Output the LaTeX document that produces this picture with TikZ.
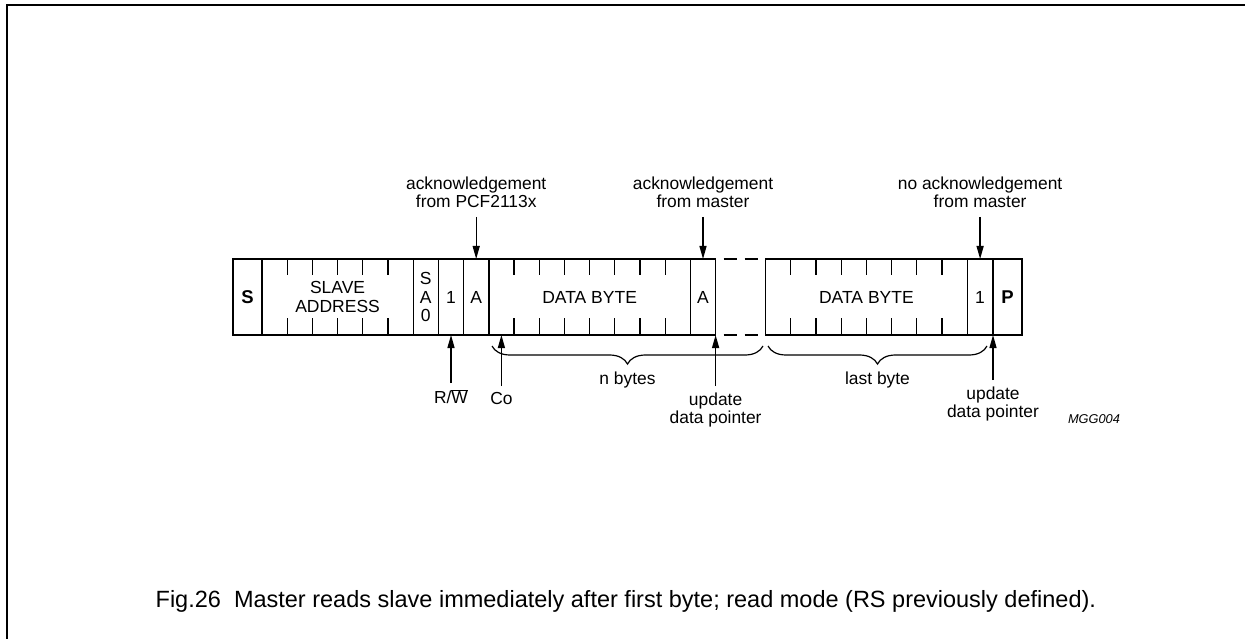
\documentclass[tikz,border=0pt]{standalone}
\usepackage{fontspec}
\setmainfont{Liberation Sans}
\usetikzlibrary{positioning,arrows.meta,decorations.pathreplacing}

\tikzset{
  cell/.style={draw, line width=1.4pt, minimum height=76pt, inner sep=0pt, outer sep=0pt,
    align=center, font=\fontsize{17.5}{18.5}\selectfont},
  toplbl/.style={align=center, inner xsep=0pt, inner ysep=9pt, anchor=south,
    font=\fontsize{17.4}{17.5}\selectfont},
  botlbl/.style={align=center, inner xsep=0pt, inner ysep=6pt, anchor=north,
    font=\fontsize{17.4}{18}\selectfont},
  bitmark/.style={line width=1.3pt},
  bytebrace/.style={decorate, decoration={brace, mirror, amplitude=18pt}, line width=1.2pt},
}

\begin{document}
\begin{tikzpicture}[x=1pt, y=-1pt, >={Triangle[length=13pt,width=7pt]}, line width=1.3pt]
    \useasboundingbox (0,0) rectangle (1245,639);
    % frame
    \draw[line width=1.6pt] (1245,5) -- (7,5) -- (7,639);

    % the frame of the transfer
    \node[cell, minimum width=29pt, anchor=west, font=\fontsize{18.5}{20}\selectfont\bfseries] (start) at (233,297) {S};
    \node[cell, minimum width=151.2pt, right=0pt of start] (addr) {SLAVE\\ADDRESS};
    \node[cell, minimum width=25.2pt, right=0pt of addr] (sa0) {S\\A\\0};
    \node[cell, minimum width=25.2pt, right=0pt of sa0] (rw) {1};
    \node[cell, minimum width=25.2pt, right=0pt of rw] (ackslave) {A};
    \node[cell, minimum width=201.6pt, right=0pt of ackslave] (data) {DATA BYTE};
    \node[cell, minimum width=25.2pt, right=0pt of data] (ackmaster) {A};
    \node[cell, minimum width=201.6pt, right=50pt of ackmaster] (lastdata) {DATA BYTE};
    \node[cell, minimum width=25.8pt, right=0pt of lastdata] (noack) {1};
    \node[cell, minimum width=29pt, right=0pt of noack, font=\fontsize{18.5}{20}\selectfont\bfseries] (stop) {P};

    % bit marks
    \foreach \i in {1,...,5} {
        \draw[bitmark] ([xshift=\i*25.2pt]addr.north west) -- ++(0,16);
        \draw[bitmark] ([xshift=\i*25.2pt]addr.south west) -- ++(0,-17);
    }
    \foreach \n in {data,lastdata}
        \foreach \i in {1,...,7} {
            \draw[bitmark] ([xshift=\i*25.2pt]\n.north west) -- ++(0,16);
            \draw[bitmark] ([xshift=\i*25.2pt]\n.south west) -- ++(0,-17);
        }

    % repeated bytes left out
    \draw[line width=1.4pt, dash pattern=on 13pt off 8pt, dash phase=13pt] (ackmaster.north east) -- (lastdata.north west);
    \draw[line width=1.4pt, dash pattern=on 13pt off 8pt, dash phase=13pt] (ackmaster.south east) -- (lastdata.south west);

    % labels above
    \node[toplbl] (lblpcf) at (476.2,217) {acknowledgement\\from PCF2113x};
    \node[toplbl] (lblmaster) at (703,217) {acknowledgement\\from master};
    \node[toplbl] (lblnoack) at (980.1,217) {no acknowledgement\\from master};
    \draw[->] (lblpcf.south) -- (lblpcf.south |- ackslave.north);
    \draw[->] (lblmaster.south) -- (lblmaster.south |- ackmaster.north);
    \draw[->] (lblnoack.south) -- (lblnoack.south |- noack.north);

    % labels below
    \node[botlbl] (lblrw) at (451,383) {R/$\overline{\hbox{W}}$};
    \node[botlbl] (lblco) at (501.4,386) {Co};
    \node[botlbl] (lblupdate) at (715.6,386) {update\\data pointer};
    \node[botlbl] (lbllastupdate) at (993,380) {update\\data pointer};
    \draw[->] (lblrw.north) -- (lblrw.north |- rw.south);
    \draw[->] (lblco.north) -- (lblco.north |- data.south);
    \draw[->] (lblupdate.north) -- (lblupdate.north |- ackmaster.south);
    \draw[->] (lbllastupdate.north) -- (lbllastupdate.north |- stop.south);

    % byte braces
    \draw[bytebrace] (492,346) -- (763,346);
    \draw[bytebrace] (768,346) -- (987,346);
    \node[font=\fontsize{17.4}{18}\selectfont] (lblnbytes) at (627.5,380) {n bytes};
    \node[font=\fontsize{17.4}{18}\selectfont] (lbllastbyte) at (877.5,380) {last byte};

    \node[font=\fontsize{12.8}{14}\selectfont\itshape] (code) at (1094,419) {MGG004};

    % caption
    \node[anchor=base west, inner sep=0pt, font=\fontsize{23.5}{26}\selectfont] (caption) at (155,607)
        {Fig.26\hspace{0.556em}Master reads slave immediately after first byte; read mode (RS previously defined).};
\end{tikzpicture}
\end{document}
